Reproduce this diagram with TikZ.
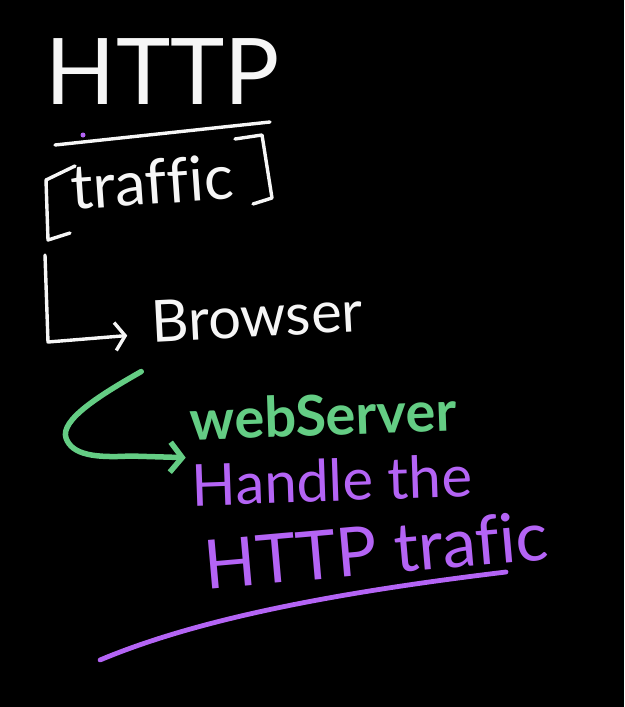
\documentclass[tikz,border=0pt]{standalone}
\usepackage{fontspec}
\setmainfont[Ligatures=NoCommon]{Lato}
\usetikzlibrary{arrows.meta}
\definecolor{craieblanc}{RGB}{246,246,246}
\definecolor{craievert}{RGB}{100,205,132}
\definecolor{craieviolet}{RGB}{180,100,245}

\begin{document}
\begin{tikzpicture}[x=1pt,y=-1pt]
    %%%%%%%%%%%%%%%%%%%%%%%%%%%%%%%%%%%%%% Tableau
    \fill[black] (0,0) rectangle (624,707);
    \useasboundingbox (0,0) rectangle (624,707);

    \tikzstyle{ecrit}=[inner sep=0pt,text=craieblanc]
    \tikzstyle{trait}=[craieblanc,line width=3.4pt,line cap=round,line join=round]

    %%%%%%%%%%%%%%%%%%%%%%%%%%%%%%%%%%%%%% HTTP
    \node[ecrit,font=\fontsize{92}{92}\selectfont] (http) at (163,72) {HTTP};
    \draw[trait] (55,145) -- (270,122);
    \fill[craieviolet] (83,135) circle (2.5);

    %%%%%%%%%%%%%%%%%%%%%%%%%%%%%%%%%%%%%% [traffic]
    \node[ecrit,font=\fontsize{62}{62}\selectfont,rotate=4] (traffic) at (152,182) {traffic};
    \draw[trait] (75,166) -- (46,180) -- (48,240) -- (70,233);
    \draw[trait] (235,139) -- (262,135) -- (272,198) -- (253,204);

    %%%%%%%%%%%%%%%%%%%%%%%%%%%%%%%%%%%%%% Browser
    \node[ecrit,font=\fontsize{58}{58}\selectfont,rotate=3] (browser) at (257,316) {Browser};
    \coordinate (depart) at (45,255);
    \draw[trait,-{Straight Barb[length=10pt,width=28pt,line width=3.4pt]}]
        (depart) -- (48,342) -- ([shift={(-24,14)}]browser.west);

    %%%%%%%%%%%%%%%%%%%%%%%%%%%%%%%%%%%%%% webServer
    \node[ecrit,text=craievert,font=\bfseries\fontsize{56}{56}\selectfont,rotate=2] (webserver) at (323,415) {webServer};
    \draw[craievert,line width=5.5pt,line cap=round,
          -{Straight Barb[length=12pt,width=30pt,line width=5.5pt]}]
        ([shift={(-10,50)}]browser.west) .. controls (100,395) and (60,420) .. (66,438)
        .. controls (72,455) and (95,458) .. (130,456) -- ([shift={(-4,38)}]webserver.west);

    %%%%%%%%%%%%%%%%%%%%%%%%%%%%%%%%%%%%%% Handle the HTTP trafic
    \node[ecrit,text=craieviolet,font=\fontsize{58}{58}\selectfont,rotate=2] (handle) at (332,480) {Handle the};
    \node[ecrit,text=craieviolet,font=\fontsize{68}{68}\selectfont,rotate=5] (trafic) at (376,550) {HTTP trafic};
    \coordinate (souligne) at (100,660);
    \draw[craieviolet,line width=4.8pt,line cap=round]
        (souligne) .. controls (200,618) and (340,592) .. (506,572);
\end{tikzpicture}
\end{document}
